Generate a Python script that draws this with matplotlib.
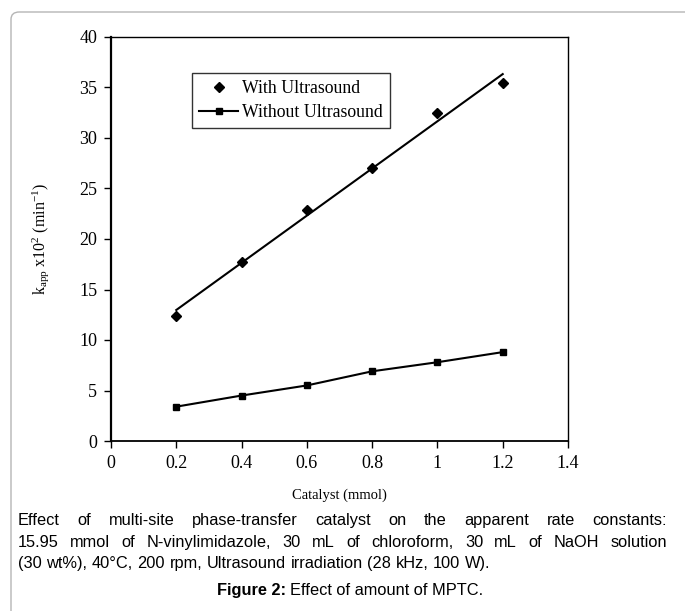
import numpy as np
import matplotlib
matplotlib.use('Agg')
import matplotlib.pyplot as plt
from matplotlib.patches import FancyBboxPatch
from matplotlib import font_manager

# Catalyst amount (mmol) and apparent rate constants k_app x10^2 (min^-1)
catalyst = [0.2, 0.4, 0.6, 0.8, 1.0, 1.2]
k_with_us = [12.4, 17.7, 22.9, 27.0, 32.5, 35.4]
k_without_us = [3.4, 4.5, 5.5, 6.9, 7.8, 8.8]

caption_lines = [
    'Effect of multi-site phase-transfer catalyst on the apparent rate constants:',
    '15.95 mmol of N-vinylimidazole, 30 mL of chloroform, 30 mL of NaOH solution',
    '(30 wt%), 40\u00b0C, 200 rpm, Ultrasound irradiation (28 kHz, 100 W).',
]

serif = 'Liberation Serif'
try:
    font_manager.findfont('Liberation Sans Narrow', fallback_to_default=False)
    narrow = 'Liberation Sans Narrow'
    cap_size = 13
except Exception:
    narrow = 'Liberation Sans'
    cap_size = 11.8

plt.rcParams['mathtext.fontset'] = 'custom'
plt.rcParams['mathtext.rm'] = serif
plt.rcParams['mathtext.it'] = serif + ':italic'

W, H = 685, 611
fig = plt.figure(figsize=(W / 100, H / 100), dpi=100)

# gray rounded frame (only top and left edges visible)
frame = FancyBboxPatch((11 / W, -0.1), 1.2, (H - 12) / H + 0.1,
                       boxstyle='round,pad=0,rounding_size=0.012',
                       transform=fig.transFigure, fill=False,
                       edgecolor='#b5b5b5', linewidth=1.0, clip_on=False)
fig.patches.append(frame)

ax = fig.add_axes([111 / W, 1 - 441 / H, 457 / W, 404 / H])

# linear trend for the ultrasound data
slope, icpt = np.polyfit(catalyst, k_with_us, 1)
xfit = np.array([catalyst[0], catalyst[-1]])

ax.plot(catalyst, k_with_us, linestyle='none', marker='D', markersize=5.5,
        color='black', label='With Ultrasound')
ax.plot(xfit, slope * xfit + icpt, color='black', linewidth=1.5)
ax.plot(catalyst, k_without_us, marker='s', markersize=4.5, color='black',
        linewidth=1.5, label='Without Ultrasound')

ax.set_xlim(0, 1.4)
ax.set_ylim(0, 40)
ax.set_xticks(np.arange(0, 1.41, 0.2))
ax.set_xticklabels(['0', '0.2', '0.4', '0.6', '0.8', '1', '1.2', '1.4'])
ax.set_yticks(range(0, 41, 5))
ax.tick_params(direction='out', length=5, width=1, labelsize=13, pad=5)
for lab in ax.get_xticklabels() + ax.get_yticklabels():
    lab.set_fontfamily(serif)
for sp in ax.spines.values():
    sp.set_linewidth(1.0)
ax.spines['left'].set_linewidth(1.6)
ax.spines['bottom'].set_linewidth(1.3)

ax.set_xlabel('Catalyst (mmol)', fontfamily=serif, fontsize=10.5, labelpad=12)
ax.set_ylabel(r'k$_{\mathrm{app}}$ x10$^{2}$ (min$^{\mathrm{-1}}$)',
              fontfamily=serif, fontsize=11.5, labelpad=20)

leg = ax.legend(loc='upper left', bbox_to_anchor=(0.177, 0.911),
                prop={'family': serif, 'size': 12.8}, frameon=True, fancybox=False,
                edgecolor='black', borderpad=0.4, labelspacing=0.4,
                handlelength=2.2, handletextpad=0.2, borderaxespad=0)
leg.get_frame().set_linewidth(1.0)

# justified caption paragraph
fig.canvas.draw()
renderer = fig.canvas.get_renderer()
x_left, x_right = 18, 667
y_lines = [525, 547, 568]
sp = fig.text(0, 0, 'a b', fontsize=cap_size, fontfamily=narrow)
sp2 = fig.text(0, 0, 'ab', fontsize=cap_size, fontfamily=narrow)
space_w = sp.get_window_extent(renderer).width - sp2.get_window_extent(renderer).width
sp.remove()
sp2.remove()
for i, (line, yp) in enumerate(zip(caption_lines, y_lines)):
    words = line.split(' ')
    texts = [fig.text(0, 1 - yp / H, w, fontfamily=narrow, fontsize=cap_size,
                      va='baseline', ha='left') for w in words]
    widths = [t.get_window_extent(renderer).width for t in texts]
    if i < len(caption_lines) - 1:
        gap = (x_right - x_left - sum(widths)) / (len(words) - 1)
    else:
        gap = space_w
    x = x_left
    for t, w in zip(texts, widths):
        t.set_x(x / W)
        x += w + gap

t1 = fig.text(217 / W, 1 - 595 / H, 'Figure 2:', fontfamily=narrow, fontsize=cap_size,
              fontweight='bold', ha='left', va='baseline')
w1 = t1.get_window_extent(renderer).width
fig.text((217 + w1 + space_w) / W, 1 - 595 / H, 'Effect of amount of MPTC.',
         fontfamily=narrow, fontsize=cap_size, ha='left', va='baseline')

fig.savefig('out.png', dpi=100)
